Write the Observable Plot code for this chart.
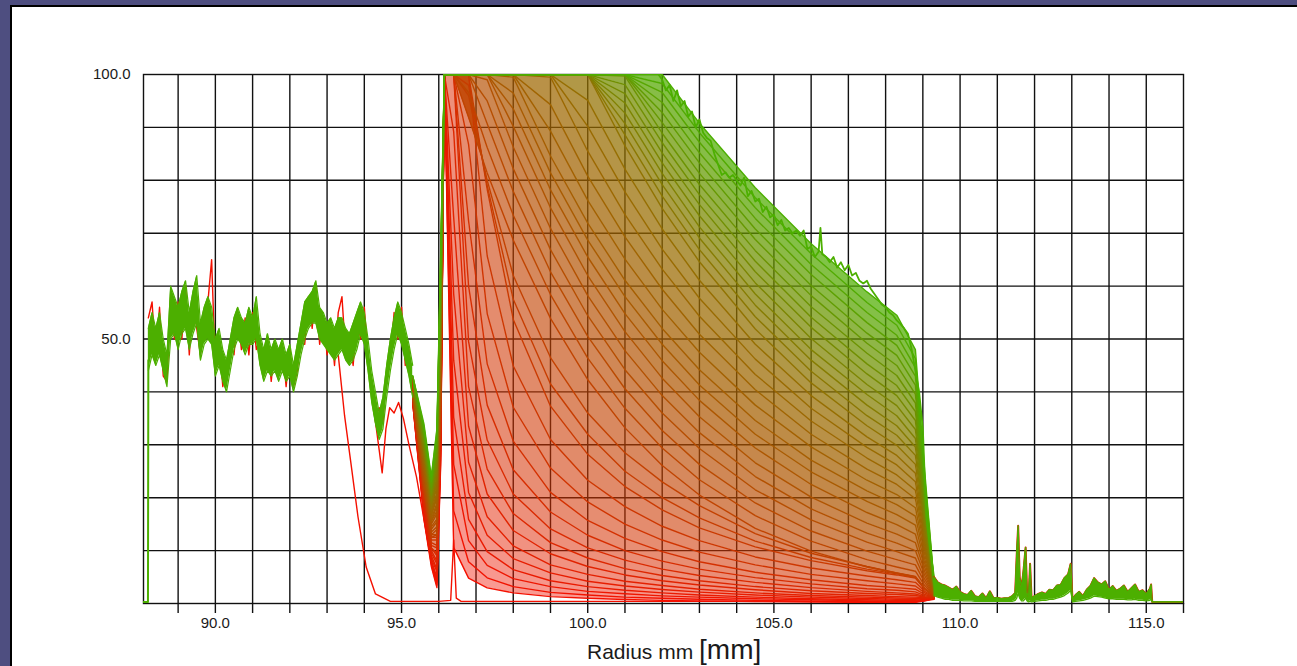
<!DOCTYPE html>
<html><head><meta charset="utf-8">
<script src="https://cdn.jsdelivr.net/npm/d3@7"></script>
<script src="https://cdn.jsdelivr.net/npm/@observablehq/plot@0.6"></script>
<style>
html,body{margin:0;padding:0;width:1297px;height:666px;overflow:hidden;background:#4e4e80;}
#panel{position:absolute;left:10px;top:5px;width:1287px;height:661px;background:#fff;border-left:2px solid #000;border-top:2px solid #000;box-sizing:border-box;}
#chart{position:absolute;left:0;top:0;}
#xlabel{position:absolute;left:587px;top:636px;line-height:28px;font-family:'Liberation Sans',Arial,sans-serif;color:#1a1a1a;white-space:nowrap;}
</style></head>
<body>
<div id="panel"></div>
<div id="chart"></div>
<div id="xlabel"><span style="font-size:21px">Radius mm </span><span style="font-size:28px">[mm]</span></div>
<script>
// ---- axes / ticks ----
const xGrid = [89,90,91,92,93,94,95,96,97,98,99,100,101,102,103,104,105,106,107,108,109,110,111,112,113,114,115];
const yGrid = [10,20,30,40,50,60,70,80,90];
const xTicks = [89,90,91,92,93,94,95,96,97,98,99,100,101,102,103,104,105,106,107,108,109,110,111,112,113,114,115,116];
const xLabelValues = [90,95,100,105,110,115];
const xTickLabels = ["90.0","95.0","100.0","105.0","110.0","115.0"];
const yLabelValues = [50,100];
const yTickLabels = ["50.0","100.0"];

// ---- lead-in at the cell start ----
const leadX = [88.07, 88.19, 88.2];
const leadY = [0.3, 0.3, 46];

// ---- shared pre-meniscus noisy band ----
const bandX = [88.2,88.3,88.4,88.5,88.6,88.7,88.8,88.9,89.0,89.1,89.2,89.3,89.4,89.5,89.6,89.7,89.8,89.9,90.0,90.1,90.2,90.3,90.4,90.5,90.6,90.7,90.8,90.9,91.0,91.1,91.2,91.3,91.4,91.5,91.6,91.7,91.8,91.9,92.0,92.1,92.2,92.3,92.4,92.5,92.6,92.7,92.8,92.9,93.0,93.1,93.2,93.3,93.4,93.5,93.6,93.7,93.8,93.9,94.0,94.1,94.2,94.3,94.4,94.5,94.6,94.7,94.8,94.9,95.0,95.1,95.2,95.3];
const bandHi = [52,55,52,55,50,47,60,58,56,59,61,55,59,62,53,56,58,56,50,52,48,46,50,54,56,54,53,56,54,58,51,48,51,48,50,48,50,47,49,45,49,53,57,58,59,61,56,55,53,54,52,54,54,52,51,53,55,57,55,50,44,40,36,39,45,50,54,57,55,52,49,45];
const bandLo = [44,47,45,47,44,41,50,51,48,51,52,48,51,53,46,49,50,49,43,45,42,40,44,48,50,49,47,49,49,50,45,42,44,43,44,42,44,42,43,40,43,47,50,52,53,53,50,49,48,47,46,47,48,46,45,46,48,51,49,44,38,34,31,33,39,44,48,51,49,46,43,39];
const redPre = [54,57,46,56,43,42,58,50,57,50,60,47,58,52,47,54,57,65,44,50,41,45,49,47,55,48,54,47,55,48,50,43,50,42,49,43,49,41,48,41,44,52,49,58,52,60,49,54,47,53,45,55,58,47,50,45,54,50,56,46,42,35,37,34,44,46,55,50,56,45,48,40];

// ---- early red scans deviating before the meniscus ----
const redAX = [93.3, 93.47, 93.65, 93.83, 94.05, 94.3, 94.7, 96.0, 96.32, 96.4, 96.47, 96.6, 109.0, 109.3];
const redAY = [47, 35.5, 26, 16.4, 6.9, 1.8, 0.4, 0.4, 0.6, 12, 1, 0.4, 0.4, 1];
const redBX = [93.95, 94.1, 94.25, 94.4, 94.48, 94.58, 94.68, 94.8, 94.92, 95.05, 95.2, 95.4, 95.6, 95.8, 95.95, 96.05, 96.15];
const redBY = [55, 47, 37, 29, 24.7, 33, 37, 36, 38, 35, 30, 24, 16, 8, 4, 30, 100];

// ---- scans (0 = first / green, last = red), values at knotX ----
const knotX = [95.3,95.6,95.8,95.95,96.05,96.15,96.4,96.8,97.3,98,99,100,101,102,103,104.5,106,107.5,108.3,108.8,109.05,109.3];
const scanValues = [
 [43,34,24,33,66, 100,100,100,100,100,100,100,100,100,90.8,78.6,68.0,58.9,54.5,48,25,4],
 [43,33.5,23.5,32,65, 100,100,100,100,100,100,100,100,98.3,89.0,76.7,66.1,56.9,52.6,46.3,24,3.9],
 [43,33,23,31.5,64, 100,100,100,100,100,100,100,100,96.6,87.2,74.8,64.1,55.0,50.7,44.6,23,3.8],
 [42.5,32.5,23,31,63, 100,100,100,100,100,100,100,100,94.7,85.2,72.8,62.2,53.1,48.8,43,22,3.7],
 [42.5,32,22,30,62, 100,100,100,100,100,100,100,100,92.8,83.3,70.8,60.1,51.1,46.9,41.3,21,3.6],
 [42.5,32,22,29,61, 100,100,100,100,100,100,100,100,90.9,81.3,68.8,58.2,49.2,45.0,39.6,20,3.5],
 [42,31.5,21.5,28.5,60, 100,100,100,100,100,100,100,99.7,88.9,79.2,66.7,56.1,47.3,43.1,37.9,19,3.4],
 [42,31,21,28,59, 100,100,100,100,100,100,100,98.1,87.1,77.3,64.7,54.1,45.3,41.2,36.3,18.5,3.3],
 [42,30.5,20.5,27,58, 100,100,100,100,100,100,100,96.4,85.2,75.4,62.7,52.2,43.4,39.3,34.6,17.5,3.2],
 [42,30,20.5,26.5,57, 100,100,100,100,100,100,100,94.6,83.3,73.3,60.6,50.1,41.4,37.4,32.9,17,3.1],
 [42,29.5,20,25.5,56, 100,100,100,100,100,100,100,92.7,81.3,71.2,58.5,48.0,39.5,35.5,31.2,16,3.0],
 [41.5,29,19.5,25,55, 100,100,100,100,100,100,100,90.7,79.2,69.1,56.4,46.0,37.5,33.6,29.6,15,2.9],
 [41.5,28.5,19,24,54, 100,100,100,100,100,100,100,88.6,77.0,66.9,54.2,43.9,35.5,31.8,28,14.5,2.8],
 [41.5,28.5,18.5,23.5,53, 100,100,100,100,100,100,100,86.5,74.7,64.6,51.9,41.7,33.6,29.9,26.3,13.5,2.7],
 [41,28,18,23,52, 100,100,100,100,100,100,95.1,82.1,70.8,61.1,49.0,39.3,31.5,28.0,24.6,12.6,2.6],
 [41,27.5,18,22,51, 100,100,100,100,100,100,90.2,77.8,67.0,57.7,46.2,36.9,29.5,26.2,23,11.8,2.5],
 [41,27,17.5,21,50, 100,100,100,100,100,99.5,85.5,73.5,63.2,54.3,43.3,34.5,27.5,24.3,21.4,11,2.4],
 [41,26.5,17,20.5,49, 100,100,100,100,100,94.3,80.8,69.3,59.4,50.9,40.4,32.0,25.4,22.5,19.8,10.2,2.3],
 [41,26,16.5,20,48, 100,100,100,100,100,89.3,76.2,65.1,55.6,47.5,37.5,29.6,23.3,20.6,18.1,9.3,2.2],
 [40.5,25.5,16,19,47.5, 100,100,100,100,99.5,84.6,71.9,61.1,52.0,44.2,34.6,27.1,21.3,18.7,16.5,8.4,2.1],
 [40.5,25,15.5,18.5,46.5, 100,100,100,100,96.5,81.4,68.7,58.0,49.0,41.3,32.0,24.9,19.3,16.8,14.8,7.6,2.0],
 [40.5,25,15.5,17.5,45.5, 100,100,100,100,93.5,78.2,65.5,54.8,45.9,38.4,29.4,22.5,17.2,14.9,13.1,6.8,1.9],
 [40,24.5,15,17,44.5, 100,100,100,100,90.2,74.8,62.0,51.4,42.6,35.3,26.6,20.1,15.2,13.1,11.5,6,1.8],
 [40,24,14.5,16,43.5, 100,100,100,99.0,86.3,70.9,58.2,47.8,39.3,32.3,24.0,17.9,13.3,11.4,10.0,5.3,1.7],
 [40,23.5,14,15.5,42.5, 100,100,100,95.0,82.2,66.9,54.4,44.2,36.0,29.3,21.5,15.8,11.6,9.8,8.6,4.6,1.6],
 [40,23,13.5,14.5,41.5, 100,100,100,90.7,77.9,62.7,50.5,40.6,32.7,26.3,19.0,13.7,9.9,8.3,7.3,4,1.5],
 [40,22.5,13,14,40.5, 100,100,96.6,86.2,73.4,58.4,46.4,36.9,29.4,23.4,16.6,11.8,8.3,6.9,6.1,3.4,1.5],
 [39.5,22,13,13,39.5, 100,100,91.9,81.4,68.7,53.9,42.3,33.2,26.1,20.5,14.2,9.9,6.9,5.7,5.0,2.9,1.4],
 [39.5,22,12.5,13,39, 100,100,96,80,62,46.5,36,28.5,23,18.5,13.2,9.5,7,5.8,5.1,2.9,1.4],
 [39.5,21.5,12.5,12.5,38.5, 100,100,98,79,57.5,41.5,32,25,20,16.2,11.8,8.7,6.5,5.6,4.9,2.8,1.4],
 [39.5,21.5,12.5,12.5,38, 100,100,100,78.3,53.7,37.3,28.2,22.1,17.7,14.3,10.7,8.1,6.2,5.4,4.8,2.7,1.4],
 [39.5,21.5,12,12,37.5, 100,100,100,65.7,44.9,31.0,23.3,18.3,14.6,11.9,8.8,6.7,5.2,4.5,4.0,2.3,1.3],
 [39.5,21,11.5,11,36.5, 100,100,86.8,54.8,37.1,25.6,19.2,15.0,12.0,9.7,7.3,5.5,4.3,3.7,3.3,2.0,1.2],
 [39,20.5,11,10.5,36, 100,100,72.3,45.3,30.7,21.0,15.7,12.3,9.8,7.9,5.9,4.5,3.4,3.0,2.7,1.7,1.2],
 [39,20,10.5,9.5,35, 100,100,60.0,37.5,25.3,17.3,12.9,10.0,8.0,6.5,4.9,3.7,2.8,2.5,2.2,1.5,1.1],
 [39,19.5,10.5,9,34, 100,100,49.5,30.9,20.7,14.1,10.5,8.2,6.5,5.3,4.0,3.0,2.3,2.0,1.8,1.3,1.1],
 [39,19,10,8,33, 100,89.2,41.0,25.4,17.0,11.5,8.6,6.6,5.3,4.3,3.2,2.4,1.9,1.7,1.5,1.2,1.0],
 [38.5,18.5,9.5,7.5,32, 100,73.0,33.5,20.7,13.8,9.4,7.0,5.4,4.3,3.5,2.6,1.9,1.5,1.3,1.2,1.1,1.0],
 [38.5,18,9,6.5,31, 100,58.5,26.7,16.4,10.9,7.3,5.5,4.2,3.4,2.7,2.0,1.5,1.2,1.05,1.0,1.0,1.0],
 [38.5,18,8.5,6,30, 100,46.0,21.0,12.9,8.5,5.8,4.2,3.3,2.65,2.15,1.6,1.2,0.95,0.8,0.8,0.9,1.0],
 [38.5,17.5,8,5,29, 100,35.2,15.9,9.8,6.4,4.3,3.2,2.5,2.0,1.6,1.2,0.9,0.7,0.6,0.6,0.8,0.9],
 [38,17,8,4.5,28, 100,26.3,11.9,7.2,4.7,3.2,2.3,1.85,1.45,1.2,0.9,0.7,0.5,0.45,0.45,0.7,0.9],
 [38,16.5,7.5,3.5,27, 100,17.5,7.9,4.85,3.2,2.1,1.6,1.2,1.0,0.8,0.6,0.45,0.35,0.3,0.3,0.6,0.9],
 [38,16,7,3,26, 100,10.6,4.8,2.95,2.0,1.3,1.0,0.76,0.6,0.5,0.37,0.28,0.2,0.2,0.2,0.5,0.8]
];

// ---- jagged upper envelope of the first scans ----
const topX = [101.9,102.0,102.1,102.2,102.3,102.4,102.5,102.6,102.7,102.8,102.9,103.0,103.1,103.2,103.3,103.4,103.5,103.6,103.7,103.8,103.9,104.0,104.1,104.2,104.3,104.4,104.5,104.6,104.7,104.8,104.9,105.0,105.1,105.2,105.3,105.4,105.5,105.6,105.7,105.8,105.9,106.0,106.1,106.2,106.25,106.3,106.4,106.5,106.6,106.7,106.8,106.9,107.0,107.1,107.2,107.3,107.4,107.5,107.6,107.7,107.8,107.9,108.0,108.1,108.2,108.3,108.4,108.5,108.6,108.7,108.8,108.9,109.0,109.05,109.1,109.2,109.3,109.4];
const topY = [100,99,97,98,95,97,94,95,92,93,90,91.5,89,88,87.5,85,83,81,81.5,80.5,81,80,79,80.5,77,78,76,76.5,74,75,73,73.5,71.5,72.5,70.5,71,70,70.5,69.5,70.5,67,67.5,65.5,66.5,71,66,65.5,64.5,65.5,63.5,64.5,63,64,62,62.5,61,60.5,61,59.5,58.5,57.5,56.5,56,55,54.5,53.5,52.8,52,51,48,44,40,33,24,16,10,5,3.5];

// ---- shared baseline tail beyond the cell bottom ----
const tailX = [109.3,109.4,109.5,109.6,109.7,109.8,109.9,110.0,110.1,110.2,110.3,110.4,110.5,110.6,110.7,110.8,110.9,111.0,111.1,111.2,111.3,111.4,111.48,111.52,111.56,111.6,111.65,111.7,111.76,111.8,111.84,111.88,111.92,112.0,112.1,112.2,112.3,112.4,112.5,112.6,112.7,112.8,112.9,112.97,113.02,113.1,113.2,113.3,113.4,113.5,113.6,113.7,113.8,113.9,114.0,114.1,114.2,114.3,114.4,114.5,114.6,114.7,114.8,114.9,115.0,115.1,115.13,115.16,116.0];
const tailHi = [5,4,3.6,3.4,3.0,2.6,3.2,2.2,1.8,1.6,2.4,1.4,1.2,1.9,1.0,2.3,1.0,1.1,0.9,1.0,1.0,1.4,2.0,9,14.7,5,3,6,10.6,2,1,7.5,1,1.4,1.8,2.1,1.8,2.6,2.5,3.4,3.5,4.8,5.5,7.5,0.8,1.6,2.2,1.4,2.6,3.3,4.8,4.0,3.6,4.2,2.6,3.3,2.4,2.8,3.4,2.2,2.9,3.6,2.2,2.5,1.8,2.8,3.6,0.3,0.3];
const tailLo = [1.5,1.2,1.0,0.8,0.8,0.6,0.6,0.6,0.5,0.5,0.5,0.4,0.4,0.4,0.4,0.4,0.4,0.4,0.4,0.4,0.4,0.4,0.6,1,2,1,0.5,0.5,1,0.5,0.3,0.5,0.3,0.4,0.5,0.6,0.6,0.8,0.8,1.0,1.2,1.5,2,2.5,0.3,0.4,0.5,0.6,0.8,1.0,1.4,1.3,1.2,1.0,0.9,0.9,0.8,0.8,0.8,0.7,0.7,0.8,0.6,0.6,0.5,0.6,0.8,0.3,0.3];

// ---- build tables for the library ----
const pts = (xs, ys) => xs.map((x, i) => ({x, y: ys[i]}));
const nScans = scanValues.length;
const rows = [];
for (let s = nScans - 1; s >= 0; s--) scanValues[s].forEach((v, j) => rows.push({scan: s, x: knotX[j], y: v}));
const bands = [];
for (let s = nScans - 2; s >= 0; s--) knotX.forEach((x, j) => bands.push({band: s + 0.5, x, hi: scanValues[s][j], lo: scanValues[s + 1][j]}));
const bandRows = bandX.map((x, i) => ({x, lo: bandLo[i], hi: bandHi[i]}));
const tailRows = tailX.map((x, i) => ({x, lo: tailLo[i], hi: tailHi[i]}));

const GREEN = "#4caf00", OLIVE = "#966e00", RED = "#f41000", INK = "#111";
// lighter wash for the later (red) scans, fading gradually
const washOpacity = d => d.band < 20 ? 0.72 : Math.max(0.42, 0.72 - (d.band - 20) * 0.013);

const chart = Plot.plot({
  width: 1297, height: 666,
  marginLeft: 143, marginRight: 114, marginTop: 74, marginBottom: 63,
  style: {fontFamily: "'Liberation Sans', Arial, sans-serif", background: "transparent", color: "#1a1a1a"},
  x: {domain: [88.07, 116]},
  y: {domain: [0, 100]},
  color: {type: "linear", domain: [0, 14, nScans - 1], range: [GREEN, OLIVE, RED], interpolate: "rgb"},
  opacity: {type: "identity"},
  marks: [
    Plot.gridX(xGrid, {stroke: INK, strokeOpacity: 1, strokeWidth: 1.4}),
    Plot.gridY(yGrid, {stroke: INK, strokeOpacity: 1, strokeWidth: 1.4}),
    Plot.frame({stroke: INK, strokeWidth: 1.4}),
    Plot.areaY(bands, {x: "x", y1: "lo", y2: "hi", z: "band", fill: "band", fillOpacity: washOpacity, clip: true}),
    Plot.line(pts(redAX, redAY), {x: "x", y: "y", stroke: RED, strokeWidth: 1.4, clip: true}),
    Plot.line(pts(redBX, redBY), {x: "x", y: "y", stroke: RED, strokeWidth: 1.4, clip: true}),
    Plot.line(rows, {x: "x", y: "y", z: "scan", stroke: "scan", strokeWidth: 1.4, clip: true}),
    Plot.line(pts(bandX, redPre), {x: "x", y: "y", stroke: RED, strokeWidth: 1.4, clip: true}),
    Plot.areaY(bandRows, {x: "x", y1: "lo", y2: "hi", fill: GREEN, clip: true}),
    Plot.line(bandRows, {x: "x", y: "hi", stroke: GREEN, strokeWidth: 1.2, clip: true}),
    Plot.line(bandRows, {x: "x", y: "lo", stroke: GREEN, strokeWidth: 1.2, clip: true}),
    Plot.line(pts(topX, topY), {x: "x", y: "y", stroke: GREEN, strokeWidth: 1.8, clip: true}),
    Plot.line(tailRows, {x: "x", y: "hi", stroke: RED, strokeWidth: 2, clip: true}),
    Plot.areaY(tailRows, {x: "x", y1: "lo", y2: "hi", fill: GREEN, clip: true}),
    Plot.line(tailRows, {x: "x", y: "hi", stroke: GREEN, strokeWidth: 1.3, clip: true}),
    Plot.line(tailRows, {x: "x", y: "lo", stroke: GREEN, strokeWidth: 1.3, clip: true}),
    Plot.line(pts(leadX, leadY), {x: "x", y: "y", stroke: GREEN, strokeWidth: 2, clip: true}),
    Plot.axisX(xTicks, {tickSize: 10, tickFormat: () => "", stroke: INK, strokeWidth: 1.4, label: null}),
    Plot.axisX(xLabelValues, {tickSize: 0, tickPadding: 14, tickFormat: (d, i) => xTickLabels[i], fontSize: 15, label: null}),
    Plot.axisY(yLabelValues, {tickSize: 0, tickPadding: 13, tickFormat: (d, i) => yTickLabels[i], fontSize: 15, label: null})
  ]
});
document.getElementById("chart").appendChild(chart);
</script>
</body></html>
